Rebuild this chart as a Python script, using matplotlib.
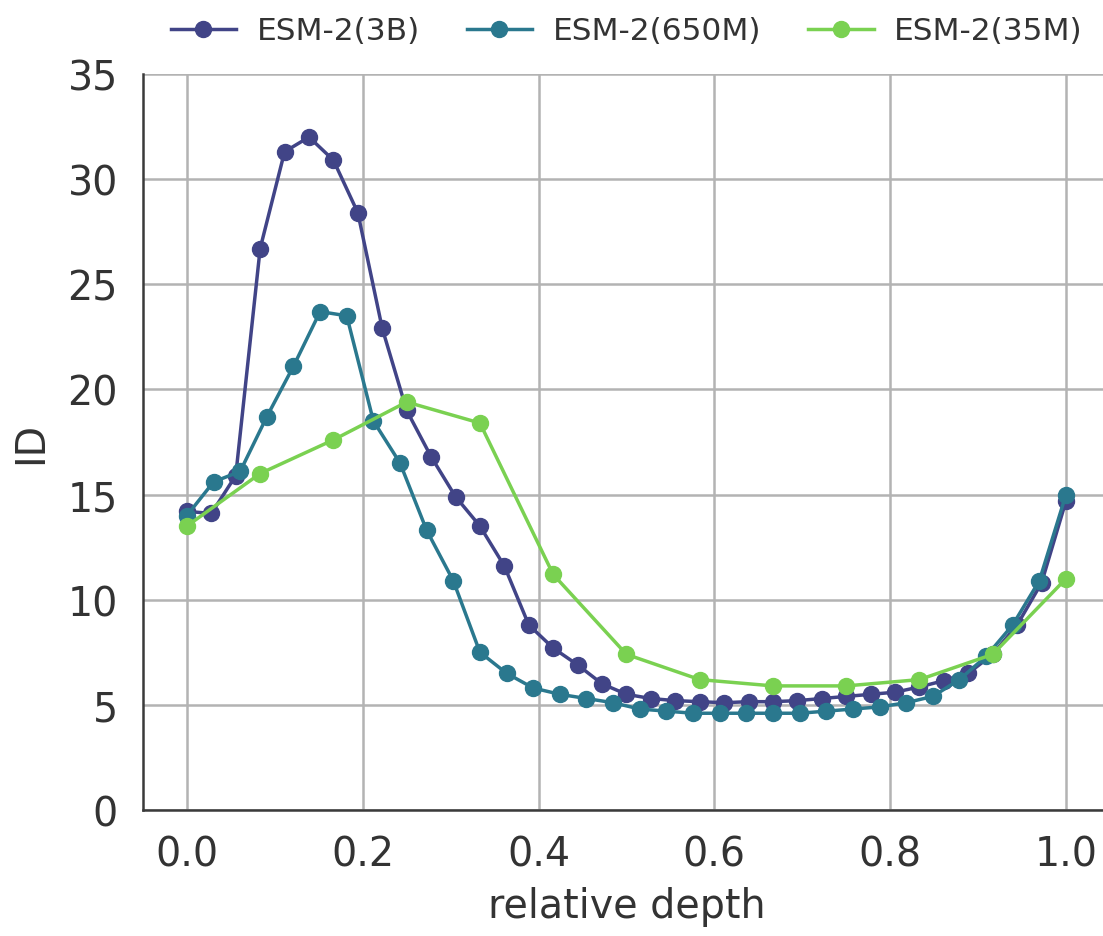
import numpy as np
import matplotlib
matplotlib.use('Agg')
import matplotlib.pyplot as plt

# ID per layer
id_3b = [14.2, 14.1, 15.9, 26.7, 31.3, 32.0, 30.9, 28.4, 22.9, 19.0,
         16.8, 14.9, 13.5, 11.6, 8.8, 7.7, 6.9, 6.0, 5.5, 5.3,
         5.2, 5.15, 5.1, 5.15, 5.15, 5.2, 5.3, 5.4, 5.5, 5.6,
         5.85, 6.15, 6.5, 7.4, 8.8, 10.8, 14.7]
id_650m = [14.0, 15.6, 16.1, 18.7, 21.1, 23.7, 23.5, 18.5, 16.5, 13.3,
           10.9, 7.5, 6.5, 5.8, 5.5, 5.3, 5.1, 4.8, 4.7, 4.6,
           4.6, 4.6, 4.6, 4.6, 4.7, 4.8, 4.9, 5.1, 5.4, 6.2,
           7.3, 8.8, 10.9, 15.0]
id_35m = [13.5, 16.0, 17.6, 19.4, 18.4, 11.2, 7.4, 6.2, 5.9, 5.9,
          6.2, 7.4, 11.0]

labels = ['ESM-2(3B)', 'ESM-2(650M)', 'ESM-2(35M)']
colors = ['#414487', '#2a788e', '#7ad151']
xticks = [0.0, 0.2, 0.4, 0.6, 0.8, 1.0]
yticks = [0, 5, 10, 15, 20, 25, 30, 35]

plt.rcParams['font.family'] = ['DejaVu Sans']
txt = '#333333'

fig = plt.figure(figsize=(11.03, 9.37), dpi=100)
ax = fig.add_axes([0.1296, 0.1345, 0.8767, 0.7855])

for vals, lab, col in zip([id_3b, id_650m, id_35m], labels, colors):
    depth = np.linspace(0, 1, len(vals))  # relative depth = layer / n_layers
    ax.plot(depth, vals, '-o', color=col, label=lab, lw=2.5, ms=11.5, clip_on=False)

ax.set_xlim(-0.05, 1.05)
ax.set_ylim(0, 35)
ax.set_xticks(xticks)
ax.set_xticklabels([f'{t:.1f}' for t in xticks])
ax.set_yticks(yticks)
ax.grid(True, color='#b3b3b3', lw=1.8)
ax.set_axisbelow(True)
ax.tick_params(length=0, pad=18, labelsize=28.5, colors=txt)

for s in ['top', 'right']:
    ax.spines[s].set_visible(False)
for s in ['left', 'bottom']:
    ax.spines[s].set_color('#3a3a3a')
    ax.spines[s].set_linewidth(1.8)

ax.set_xlabel('relative depth', fontsize=28.5, color=txt, labelpad=8)
ax.set_ylabel('ID', fontsize=28.5, color=txt, labelpad=12)

ax.legend(loc='center', bbox_to_anchor=(626.5 / 1103, 1 - 32 / 937),
          bbox_transform=fig.transFigure, ncol=3, frameon=False,
          fontsize=22.5, handlelength=2.1, handletextpad=0.65,
          columnspacing=1.5, labelcolor=txt)

fig.savefig('out.png', dpi=100)
